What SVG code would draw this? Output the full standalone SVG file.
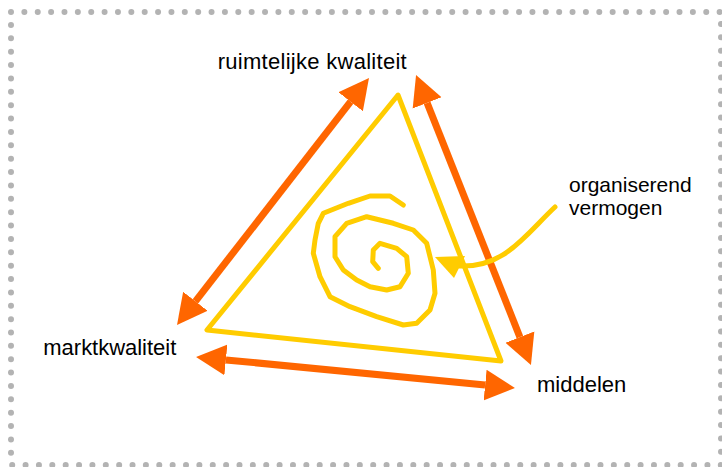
<svg xmlns="http://www.w3.org/2000/svg" width="722" height="467" viewBox="0 0 722 467">
<style>
.lbl{font-family:"Liberation Sans",Arial,sans-serif;font-size:22px;fill:#000}
.sm{font-size:21px}
.orange{stroke:#ff6600;stroke-width:7;fill:none}
.yellow{stroke:#ffcc00;stroke-width:5;fill:none;stroke-linejoin:round;stroke-linecap:round}
</style>
<defs>
<marker id="oh" markerUnits="userSpaceOnUse" markerWidth="32" markerHeight="32" viewBox="0 -16 32 32" refX="0" refY="0" orient="auto-start-reverse">
<path d="M0,-15.5 L30,0 L0,15.5 z" fill="#ff6600"/>
</marker>
</defs>
<rect x="11" y="12" width="710" height="453" fill="none" stroke="#b3b3b3" stroke-width="6" stroke-linecap="round" stroke-dasharray="0 13.37"/>
<g id="connectors">
<line class="orange" x1="195.4" y1="301.3" x2="350.6" y2="101.7" marker-start="url(#oh)" marker-end="url(#oh)"/>
<line class="orange" x1="427.1" y1="102.9" x2="519.9" y2="337.1" marker-start="url(#oh)" marker-end="url(#oh)"/>
<line class="orange" x1="225.9" y1="359.9" x2="485.1" y2="385.1" marker-start="url(#oh)" marker-end="url(#oh)"/>
<path class="yellow" d="M555,207 C525,235 505,268 459,266"/>
<polygon points="435,257 465,256 454,278" fill="#ffcc00"/>
</g>
<g id="triangle">
<polygon class="yellow" points="398,95 207,330 501,361" stroke-linejoin="miter"/>
</g>
<g id="spiral">
<path class="yellow" d="M403.3,205 L390,196 L370,196 L348.3,203.3 L323.3,213.3 L318.3,223.3 L315,240 L313.3,253.3 L320,276.7 L330,296.7 L350,306.7 L376.7,316.7 L403.3,325 L416.7,323.3 L430,310 L435,293.3 L433.3,270 L426.7,243.3 L413.3,230 L393.3,223.3 L366.7,216.7 L346.7,223.3 L335,236.7 L335,256.7 L343.3,270 L356.7,280 L370,286.7 L386.7,290 L400,286.7 L408.3,273.3 L406.7,256.7 L396.7,248.3 L380,243.3 L373.3,250 L372.7,261.7 L378.3,268.3"/>
</g>
<g id="ruimtelijke-kwaliteit"><text class="lbl" x="217.7" y="69" textLength="189" lengthAdjust="spacing">ruimtelijke kwaliteit</text></g>
<g id="marktkwaliteit"><text class="lbl" x="43.3" y="355" textLength="133" lengthAdjust="spacing">marktkwaliteit</text></g>
<g id="middelen"><text class="lbl" x="537" y="392">middelen</text></g>
<g id="organiserend-vermogen"><text class="lbl sm" x="569" y="192">organiserend</text><text class="lbl sm" x="569" y="215">vermogen</text></g>
</svg>
